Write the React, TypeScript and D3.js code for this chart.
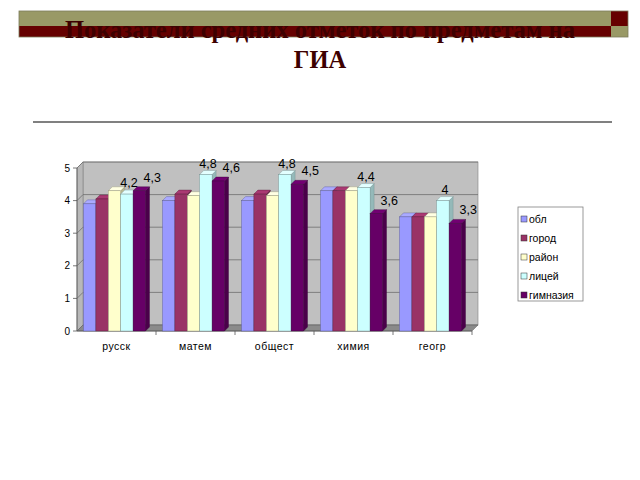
import React from "react";
import * as d3 from "d3";

const categories = ["русск", "матем", "общест", "химия", "геогр"];
const seriesNames = ["обл", "город", "район", "лицей", "гимназия"];
const obl = [3.9, 4.0, 4.0, 4.3, 3.5];
const gorod = [4.05, 4.2, 4.2, 4.3, 3.5];
const rayon = [4.3, 4.15, 4.15, 4.3, 3.5];
const licey = [4.2, 4.8, 4.8, 4.4, 4.0];
const gimnaziya = [4.3, 4.6, 4.5, 3.6, 3.3];
const seriesValues = [obl, gorod, rayon, licey, gimnaziya];
const labeledSeries = [3, 4];
const colors = ["#9999FF", "#993366", "#FFFFCC", "#CCFFFF", "#660066"];
const yTicks = [0, 1, 2, 3, 4, 5];

const fmt = (v: number) => String(v).replace(".", ",");

export default function App() {
  const x0 = 77, x1 = 472;
  const y = d3.scaleLinear().domain([0, 5]).range([331, 168]);
  const xb = d3.scaleBand().domain(categories).range([x0, x1]).padding(0);
  const bw = xb.bandwidth();
  const wallD = 6;
  const barD = 4;
  const groupW = 62;
  const xs = d3.scaleBand().domain(seriesNames).range([0, groupW]).padding(0);
  const groupOff = (bw - groupW - barD) / 2;
  const yb = y(0);

  const bars: React.ReactNode[] = [];
  const labels: React.ReactNode[] = [];
  categories.forEach((c, ci) => {
    seriesNames.forEach((s, si) => {
      const v = seriesValues[si][ci];
      const x = (xb(c) as number) + groupOff + (xs(s) as number);
      const w = xs.bandwidth();
      const yt = y(v);
      const col = d3.color(colors[si])!;
      const side = col.darker(0.9).toString();
      const top = col.brighter(0.3).toString();
      const stroke = col.darker(1.6).toString();
      bars.push(
        <g key={`${ci}-${si}`}>
          <polygon
            points={`${x + w},${yt} ${x + w + barD},${yt - barD} ${x + w + barD},${yb - barD} ${x + w},${yb}`}
            fill={side}
            stroke={stroke}
            strokeWidth={0.4}
          />
          <polygon
            points={`${x},${yt} ${x + barD},${yt - barD} ${x + w + barD},${yt - barD} ${x + w},${yt}`}
            fill={top}
            stroke={stroke}
            strokeWidth={0.4}
          />
          <rect x={x} y={yt} width={w} height={yb - yt} fill={colors[si]} stroke={stroke} strokeWidth={0.4} />
        </g>
      );
      if (labeledSeries.includes(si)) {
        const lx = si === 3 ? x + w / 2 + 2 : x + w / 2 + 13;
        const ly = si === 3 ? yt - 11 : yt - 13;
        labels.push(
          <text
            key={`l${ci}-${si}`}
            x={lx}
            y={ly}
            textAnchor="middle"
            dominantBaseline="central"
            fontFamily="Liberation Sans, Arial, sans-serif"
            fontSize={12.5}
            fill="#000"
          >
            {fmt(v)}
          </text>
        );
      }
    });
  });

  return (
    <svg
      width={640}
      height={480}
      style={{ position: "absolute", left: 0, top: 0, background: "#fff" }}
    >
      {/* header decoration */}
      <rect x={19} y={11} width={592} height={15} fill="#999966" />
      <rect x={19} y={26} width={592} height={11} fill="#660000" />
      <rect x={611} y={11} width={17} height={15} fill="#660000" />
      <rect x={611} y={26} width={17} height={11} fill="#999966" />
      <rect x={19} y={11} width={609} height={26} fill="none" stroke="#7a7a5a" strokeWidth={0.8} />
      <text
        x={320}
        y={38}
        textAnchor="middle"
        fontFamily="Liberation Serif, Times New Roman, serif"
        fontWeight="bold"
        fontSize={24.5}
        fill="#3d0000"
      >
        Показатели средних отметок по предметам на
      </text>
      <text
        x={320}
        y={68}
        textAnchor="middle"
        fontFamily="Liberation Serif, Times New Roman, serif"
        fontWeight="bold"
        fontSize={24.5}
        fill="#3d0000"
      >
        ГИА
      </text>
      <line x1={33} x2={612} y1={122} y2={122} stroke="#808080" strokeWidth={2} />

      {/* back wall */}
      <rect x={x0 + wallD} y={y(5) - wallD} width={x1 - x0} height={y(0) - y(5)} fill="#C0C0C0" stroke="#808080" strokeWidth={0.6} />
      {/* side wall */}
      <polygon
        points={`${x0},${y(5)} ${x0 + wallD},${y(5) - wallD} ${x0 + wallD},${y(0) - wallD} ${x0},${y(0)}`}
        fill="#B8B8B8"
        stroke="#808080"
        strokeWidth={0.6}
      />
      {/* floor */}
      <polygon
        points={`${x0},${yb} ${x0 + wallD},${yb - wallD} ${x1 + wallD},${yb - wallD} ${x1},${yb}`}
        fill="#8a8a8a"
        stroke="#707070"
        strokeWidth={0.6}
      />
      {yTicks.map((t) => (
        <g key={t}>
          <line x1={x0 + wallD} x2={x1 + wallD} y1={y(t) - wallD} y2={y(t) - wallD} stroke="#6e6e6e" strokeWidth={0.8} />
          <line x1={x0} x2={x0 + wallD} y1={y(t)} y2={y(t) - wallD} stroke="#6e6e6e" strokeWidth={0.8} />
          <line x1={x0 - 4} x2={x0} y1={y(t)} y2={y(t)} stroke="#555" strokeWidth={0.8} />
          <text
            x={x0 - 7}
            y={y(t)}
            textAnchor="end"
            dominantBaseline="central"
            fontFamily="Liberation Sans, Arial, sans-serif"
            fontSize={10}
            fill="#000"
          >
            {t}
          </text>
        </g>
      ))}
      <line x1={x0} x2={x0} y1={y(5)} y2={y(0)} stroke="#555" strokeWidth={0.8} />
      <line x1={x0} x2={x1} y1={yb} y2={yb} stroke="#555" strokeWidth={0.8} />
      {categories.map((c, i) => (
        <line key={`t${i}`} x1={(xb(c) as number) + bw} x2={(xb(c) as number) + bw} y1={yb} y2={yb + 4} stroke="#555" strokeWidth={0.8} />
      ))}

      {bars}
      {labels}

      {categories.map((c) => (
        <text
          key={c}
          x={(xb(c) as number) + bw / 2}
          y={346}
          textAnchor="middle"
          dominantBaseline="central"
          fontFamily="Liberation Sans, Arial, sans-serif"
          fontSize={10.5}
          letterSpacing={0.5}
          fill="#000"
        >
          {c}
        </text>
      ))}

      {/* legend */}
      <rect x={518} y={207} width={65} height={94} fill="#fff" stroke="#808080" strokeWidth={0.8} />
      {seriesNames.map((s, i) => (
        <g key={s}>
          <rect x={521} y={216 + i * 19} width={6} height={6} fill={colors[i]} stroke="#333" strokeWidth={0.5} />
          <text
            x={529}
            y={219 + i * 19}
            dominantBaseline="central"
            fontFamily="Liberation Sans, Arial, sans-serif"
            fontSize={10.5}
            fill="#000"
          >
            {s}
          </text>
        </g>
      ))}
    </svg>
  );
}
